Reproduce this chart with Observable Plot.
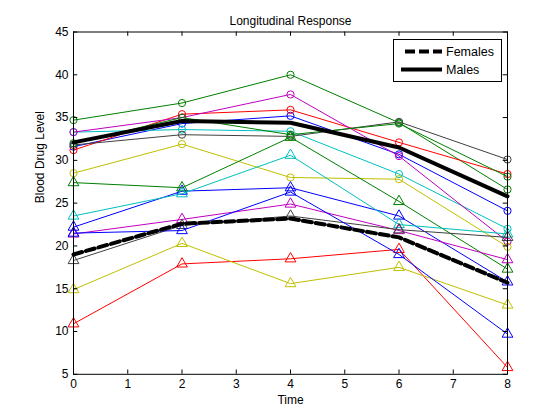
<!DOCTYPE html>
<html><head><meta charset="utf-8">
<script src="https://cdn.jsdelivr.net/npm/d3@7"></script>
<script src="https://cdn.jsdelivr.net/npm/@observablehq/plot@0.6"></script>
<style>
body{margin:0;background:#fff;}
#wrap{position:relative;width:560px;height:420px;font-family:"Liberation Sans",Arial,Helvetica,sans-serif;}
#legend{position:absolute;left:393px;top:39px;width:107px;height:41px;border:1px solid #000;background:#fff;}
#legend svg{display:block;}
</style></head><body>
<div id="wrap"></div>
<script>
// ---- data ----
const time = [0, 2, 4, 6, 8];
const xTicks = [0, 1, 2, 3, 4, 5, 6, 7, 8];
const yTicks = [5, 10, 15, 20, 25, 30, 35, 40, 45];

// males (circles)
const maleBlue    = [31.6, 34.3, 35.2, 30.7, 24.1];
const maleGreen1  = [34.7, 36.7, 40.0, 34.4, 26.6];
const maleRed     = [31.2, 35.4, 35.9, 32.1, 28.4];
const maleCyan    = [33.3, 33.6, 33.4, 28.4, 22.0];
const maleMagenta = [33.3, 35.0, 37.7, 30.5, 20.5];
const maleYellow  = [28.5, 31.9, 28.0, 27.8, 19.9];
const maleGray    = [31.8, 33.0, 32.8, 34.5, 30.1];
const maleGreen2  = [32.0, 35.0, 33.0, 34.3, 28.1];

// females (triangles)
const femaleBlue1   = [22.2, 26.4, 26.8, 23.5, 15.8];
const femaleGreen   = [27.4, 26.8, 32.7, 25.2, 17.3];
const femaleRed     = [10.9, 17.9, 18.5, 19.6, 5.8];
const femaleCyan    = [23.5, 26.1, 30.6, 22.5, 21.4];
const femaleMagenta = [21.4, 23.1, 24.9, 21.8, 18.4];
const femaleYellow  = [14.9, 20.3, 15.6, 17.5, 13.1];
const femaleGray    = [18.3, 22.4, 23.5, 21.9, 21.0];
const femaleBlue2   = [21.5, 21.8, 26.3, 19.0, 9.7];

// group means
const femaleMean = [19.0, 22.6, 23.2, 21.0, 15.7];
const maleMean   = [32.1, 34.6, 34.4, 31.5, 25.8];

const legendLabels = ["Females", "Males"];

// ---- styling ----
const palette = {b: "#0000ff", g: "#008000", r: "#ff0000", c: "#00bfbf", m: "#bf00bf", y: "#bfbf00", k: "#404040"};

const series = [
  {values: maleBlue, c: "b", s: "circle"},
  {values: maleGreen1, c: "g", s: "circle"},
  {values: maleRed, c: "r", s: "circle"},
  {values: maleCyan, c: "c", s: "circle"},
  {values: maleMagenta, c: "m", s: "circle"},
  {values: maleYellow, c: "y", s: "circle"},
  {values: maleGray, c: "k", s: "circle"},
  {values: maleGreen2, c: "g", s: "circle"},
  {values: femaleBlue1, c: "b", s: "triangle"},
  {values: femaleGreen, c: "g", s: "triangle"},
  {values: femaleRed, c: "r", s: "triangle"},
  {values: femaleCyan, c: "c", s: "triangle"},
  {values: femaleMagenta, c: "m", s: "triangle"},
  {values: femaleYellow, c: "y", s: "triangle"},
  {values: femaleGray, c: "k", s: "triangle"},
  {values: femaleBlue2, c: "b", s: "triangle"}
];

const rows = series.flatMap((s, si) => time.map((t, i) => ({t, v: s.values[i], id: si})));
const fRows = time.map((t, i) => ({t, v: femaleMean[i]}));
const mRows = time.map((t, i) => ({t, v: maleMean[i]}));

const W = 560, H = 420;
const mL = 73, mR = 53, mT = 31.5, mB = 46.2;
const pW = W - mL - mR, pH = H - mT - mB;
const tk = 4.3;

const marks = [];
series.forEach((s, si) => {
  const d = rows.filter(r => r.id === si);
  marks.push(Plot.line(d, {x: "t", y: "v", stroke: palette[s.c], strokeWidth: 1}));
  marks.push(Plot.dot(d, {x: "t", y: "v", stroke: palette[s.c], fill: "none", strokeWidth: 1, symbol: s.s, r: s.s === "circle" ? 3.6 : 4}));
});
marks.push(Plot.line(fRows, {x: "t", y: "v", stroke: "#000", strokeWidth: 4, strokeDasharray: "9,4"}));
marks.push(Plot.line(mRows, {x: "t", y: "v", stroke: "#000", strokeWidth: 4}));

const chart = Plot.plot({
  width: W, height: H,
  marginLeft: mL, marginRight: mR, marginTop: mT, marginBottom: mB,
  style: {fontFamily: "'Liberation Sans', Arial, Helvetica, sans-serif", fontSize: "12px", background: "#fff", color: "#000"},
  x: {domain: [0, 8]},
  y: {domain: [5, 45]},
  marks: [
    ...marks,
    Plot.frame({stroke: "#000", strokeWidth: 1}),
    Plot.tickX(xTicks, {x: d => d, insetTop: pH - tk, stroke: "#000"}),
    Plot.tickX(xTicks, {x: d => d, insetBottom: pH - tk, stroke: "#000"}),
    Plot.tickY(yTicks, {y: d => d, insetRight: pW - tk, stroke: "#000"}),
    Plot.tickY(yTicks, {y: d => d, insetLeft: pW - tk, stroke: "#000"}),
    Plot.axisX(xTicks, {tickSize: 0, tickPadding: 5, label: null, fontSize: 12}),
    Plot.axisY(yTicks, {tickSize: 0, tickPadding: 5, label: null, fontSize: 12}),
    Plot.text(["Time"], {frameAnchor: "bottom", dy: 30, fontSize: 12, fill: "#000"}),
    Plot.text(["Blood Drug Level"], {frameAnchor: "left", dx: -33, rotate: -90, fontSize: 12, fill: "#000"}),
    Plot.text(["Longitudinal Response"], {frameAnchor: "top", dy: -16, fontSize: 12, fill: "#000"})
  ]
});
const wrap = document.getElementById("wrap");
wrap.appendChild(chart);

// legend
const leg = document.createElement("div");
leg.id = "legend";
leg.innerHTML = `<svg width="107" height="41">
  <line x1="11" x2="48" y1="11.5" y2="11.5" stroke="#000" stroke-width="4" stroke-dasharray="10,4"/>
  <text x="52" y="16" font-size="12.5" fill="#000" font-family="'Liberation Sans', Arial, sans-serif">${legendLabels[0]}</text>
  <line x1="7" x2="48" y1="29.5" y2="29.5" stroke="#000" stroke-width="4"/>
  <text x="52" y="34" font-size="12.5" fill="#000" font-family="'Liberation Sans', Arial, sans-serif">${legendLabels[1]}</text>
</svg>`;
wrap.appendChild(leg);
</script>
</body></html>
